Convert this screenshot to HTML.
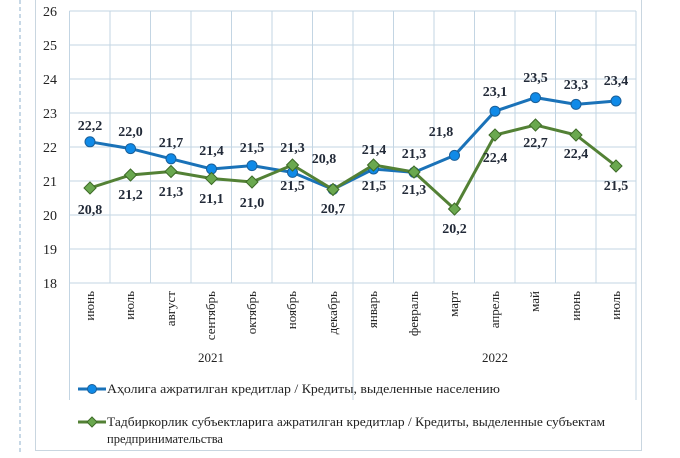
<!DOCTYPE html>
<html><head><meta charset="utf-8"><style>
body{margin:0;background:#fff;}
svg, svg text{font-family:"Liberation Serif","Times New Roman",serif;}
</style></head><body>
<svg width="680" height="453" viewBox="0 0 680 453" xmlns="http://www.w3.org/2000/svg" font-family="Liberation Serif, serif">
<line x1="20" y1="0" x2="20" y2="453" stroke="#8fb0cc" stroke-dasharray="4,3" stroke-width="1"/>
<rect x="35.5" y="-1" width="606" height="451.5" fill="#fff" stroke="#c9d6e0"/>
<g stroke="#c3d5e3" stroke-width="1">
<line x1="69.5" y1="11" x2="636" y2="11"/><line x1="69.5" y1="45" x2="636" y2="45"/><line x1="69.5" y1="79" x2="636" y2="79"/><line x1="69.5" y1="113" x2="636" y2="113"/><line x1="69.5" y1="147" x2="636" y2="147"/><line x1="69.5" y1="181" x2="636" y2="181"/><line x1="69.5" y1="215" x2="636" y2="215"/><line x1="69.5" y1="249" x2="636" y2="249"/><line x1="69.5" y1="283" x2="636" y2="283"/>
<line x1="69.5" y1="11" x2="69.5" y2="283"/><line x1="110" y1="11" x2="110" y2="283"/><line x1="150.5" y1="11" x2="150.5" y2="283"/><line x1="191" y1="11" x2="191" y2="283"/><line x1="231.5" y1="11" x2="231.5" y2="283"/><line x1="272" y1="11" x2="272" y2="283"/><line x1="312.5" y1="11" x2="312.5" y2="283"/><line x1="353" y1="11" x2="353" y2="400"/><line x1="393.5" y1="11" x2="393.5" y2="283"/><line x1="434" y1="11" x2="434" y2="283"/><line x1="474.5" y1="11" x2="474.5" y2="283"/><line x1="515" y1="11" x2="515" y2="283"/><line x1="555.5" y1="11" x2="555.5" y2="283"/><line x1="596" y1="11" x2="596" y2="283"/><line x1="636" y1="11" x2="636" y2="400"/>
<line x1="69.5" y1="283" x2="69.5" y2="400"/>
</g>
<g font-size="14" fill="#222" text-anchor="middle">
<text x="50" y="16">26</text><text x="50" y="50">25</text><text x="50" y="84">24</text><text x="50" y="118">23</text><text x="50" y="152">22</text><text x="50" y="186">21</text><text x="50" y="220">20</text><text x="50" y="254">19</text><text x="50" y="288">18</text>
</g>
<g font-size="13" fill="#222" text-anchor="end">
<text transform="translate(94,291) rotate(-90)">июнь</text>
<text transform="translate(134,291) rotate(-90)">июль</text>
<text transform="translate(175,291) rotate(-90)">август</text>
<text transform="translate(215,291) rotate(-90)">сентябрь</text>
<text transform="translate(256,291) rotate(-90)">октябрь</text>
<text transform="translate(296,291) rotate(-90)">ноябрь</text>
<text transform="translate(337,291) rotate(-90)">декабрь</text>
<text transform="translate(377,291) rotate(-90)">январь</text>
<text transform="translate(418,291) rotate(-90)">февраль</text>
<text transform="translate(458,291) rotate(-90)">март</text>
<text transform="translate(499,291) rotate(-90)">апрель</text>
<text transform="translate(539,291) rotate(-90)">май</text>
<text transform="translate(580,291) rotate(-90)">июнь</text>
<text transform="translate(620,291) rotate(-90)">июль</text>
</g>
<g font-size="13" fill="#222" text-anchor="middle"><text x="211" y="362">2021</text><text x="495" y="362">2022</text></g>
<polyline fill="none" stroke="#1a72b8" stroke-width="3" points="90,141.8 130.5,148.6 171,158.8 211.5,169 252,165.6 292.5,172.4 333,189.4 373.5,169 414,172.4 454.5,155.4 495,111.2 535.5,97.6 576,104.4 616,101"/>
<g fill="#0f8ae8" stroke="#1a5f99" stroke-width="1">
<circle cx="90" cy="141.8" r="5"/><circle cx="130.5" cy="148.6" r="5"/><circle cx="171" cy="158.8" r="5"/><circle cx="211.5" cy="169" r="5"/><circle cx="252" cy="165.6" r="5"/><circle cx="292.5" cy="172.4" r="5"/><circle cx="333" cy="189.4" r="5"/><circle cx="373.5" cy="169" r="5"/><circle cx="414" cy="172.4" r="5"/><circle cx="454.5" cy="155.4" r="5"/><circle cx="495" cy="111.2" r="5"/><circle cx="535.5" cy="97.6" r="5"/><circle cx="576" cy="104.4" r="5"/><circle cx="616" cy="101" r="5"/>
</g>
<polyline fill="none" stroke="#538135" stroke-width="3" points="90,188 130.5,175 171,171.5 211.5,178.5 252,182 292.5,165 333,189.5 373.5,165 414,172 454.5,209 495,135 535.5,125 576,135 616,166"/>
<g fill="#6aa84f" stroke="#3d6b27" stroke-width="1">
<path d="M90 182l6 6-6 6-6-6z"/><path d="M130.5 169l6 6-6 6-6-6z"/><path d="M171 165.5l6 6-6 6-6-6z"/><path d="M211.5 172.5l6 6-6 6-6-6z"/><path d="M252 176l6 6-6 6-6-6z"/><path d="M292.5 159l6 6-6 6-6-6z"/><path d="M333 183.5l6 6-6 6-6-6z"/><path d="M373.5 159l6 6-6 6-6-6z"/><path d="M414 166l6 6-6 6-6-6z"/><path d="M454.5 203l6 6-6 6-6-6z"/><path d="M495 129l6 6-6 6-6-6z"/><path d="M535.5 119l6 6-6 6-6-6z"/><path d="M576 129l6 6-6 6-6-6z"/><path d="M616 160l6 6-6 6-6-6z"/>
</g>
<g font-size="14" font-weight="bold" fill="#222a38" text-anchor="middle">
<text x="90" y="130">22,2</text><text x="130.5" y="136">22,0</text><text x="171" y="147">21,7</text><text x="211.5" y="155">21,4</text><text x="252" y="152">21,5</text><text x="292.5" y="152">21,3</text><text x="324" y="163">20,8</text><text x="374" y="154">21,4</text><text x="414" y="158">21,3</text><text x="441" y="136">21,8</text><text x="495" y="96">23,1</text><text x="535.5" y="82">23,5</text><text x="576" y="89">23,3</text><text x="616" y="85">23,4</text>
<text x="90" y="214">20,8</text><text x="130.5" y="199">21,2</text><text x="171" y="196">21,3</text><text x="211.5" y="203">21,1</text><text x="252" y="207">21,0</text><text x="292.5" y="190">21,5</text><text x="333" y="213">20,7</text><text x="374" y="190">21,5</text><text x="414" y="194">21,3</text><text x="454.5" y="233">20,2</text><text x="495" y="162">22,4</text><text x="535.5" y="147">22,7</text><text x="576" y="158">22,4</text><text x="616" y="190">21,5</text>
</g>
<line x1="78" y1="389" x2="106" y2="389" stroke="#1a72b8" stroke-width="3"/>
<circle cx="92" cy="389" r="4.5" fill="#0f8ae8" stroke="#1a5f99"/>
<line x1="78" y1="422" x2="106" y2="422" stroke="#538135" stroke-width="3"/>
<path d="M92 417l5 5-5 5-5-5z" fill="#6aa84f" stroke="#3d6b27"/>
<g font-size="12.5" fill="#222">
<text x="107" y="393" textLength="393" lengthAdjust="spacingAndGlyphs">Аҳолига ажратилган кредитлар / Кредиты, выделенные населению</text>
<text x="107" y="426" textLength="498" lengthAdjust="spacingAndGlyphs">Тадбиркорлик субъектларига ажратилган кредитлар / Кредиты, выделенные субъектам</text>
<text x="107" y="443">предпринимательства</text>
</g>
</svg>
</body></html>
